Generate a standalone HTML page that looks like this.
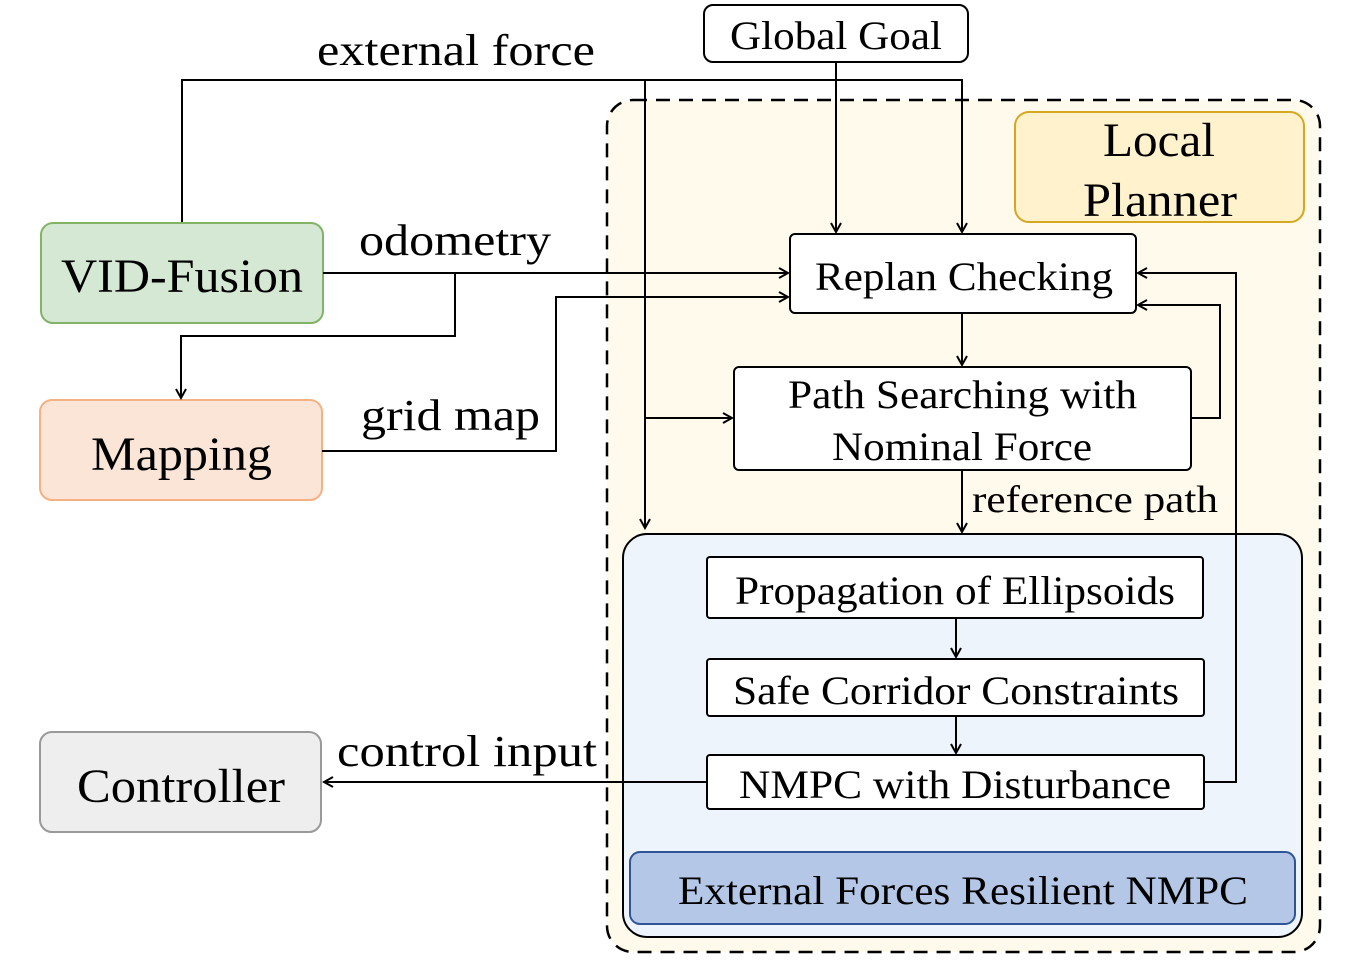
<!DOCTYPE html>
<html><head><meta charset="utf-8"><style>
body{margin:0;background:#fff}
svg{display:block}
text{font-family:"Liberation Serif",serif;fill:#000}
</style></head><body>
<svg width="1351" height="966" viewBox="0 0 1351 966" xmlns="http://www.w3.org/2000/svg">
<defs>
<marker id="a" markerWidth="12" markerHeight="12" refX="10" refY="6" orient="auto" markerUnits="userSpaceOnUse">
<path d="M1,1 L10,6 L1,11" fill="none" stroke="#000" stroke-width="2"/>
</marker>
</defs>
<rect x="607" y="100" width="713" height="852" rx="26" fill="#fffaeb" stroke="#000" stroke-width="2.5" stroke-dasharray="14,9"/>
<rect x="1015" y="112" width="289" height="110" rx="14" fill="#fff2cc" stroke="#d6a820" stroke-width="2"/>
<text x="1103" y="156" font-size="48" textLength="112" lengthAdjust="spacingAndGlyphs">Local</text>
<text x="1083" y="216" font-size="48" textLength="154" lengthAdjust="spacingAndGlyphs">Planner</text>
<rect x="623" y="534" width="679" height="403" rx="24" fill="#edf4fc" stroke="#000" stroke-width="2"/>
<rect x="704" y="5" width="264" height="57" rx="9" fill="#fff" stroke="#000" stroke-width="2"/>
<text x="730" y="49" font-size="40" textLength="212" lengthAdjust="spacingAndGlyphs">Global Goal</text>
<text x="317" y="65" font-size="44" textLength="278" lengthAdjust="spacingAndGlyphs">external force</text>
<rect x="41" y="223" width="282" height="100" rx="12" fill="#d5e8d4" stroke="#82b366" stroke-width="2"/>
<text x="61" y="292" font-size="48" textLength="242" lengthAdjust="spacingAndGlyphs">VID-Fusion</text>
<rect x="40" y="400" width="282" height="100" rx="12" fill="#fae5d7" stroke="#f4b183" stroke-width="2"/>
<text x="91" y="470" font-size="48" textLength="181" lengthAdjust="spacingAndGlyphs">Mapping</text>
<rect x="40" y="732" width="281" height="100" rx="12" fill="#eeeeee" stroke="#999" stroke-width="2"/>
<text x="77" y="802" font-size="48" textLength="208" lengthAdjust="spacingAndGlyphs">Controller</text>
<rect x="790" y="234" width="346" height="79" rx="5" fill="#fff" stroke="#000" stroke-width="2"/>
<text x="815" y="290" font-size="40" textLength="298" lengthAdjust="spacingAndGlyphs">Replan Checking</text>
<rect x="734" y="367" width="457" height="103" rx="5" fill="#fff" stroke="#000" stroke-width="2"/>
<text x="788" y="408" font-size="40" textLength="349" lengthAdjust="spacingAndGlyphs">Path Searching with</text>
<text x="832" y="460" font-size="40" textLength="260" lengthAdjust="spacingAndGlyphs">Nominal Force</text>
<rect x="707" y="557" width="496" height="61" rx="3" fill="#fff" stroke="#000" stroke-width="2"/>
<text x="735" y="604" font-size="40" textLength="440" lengthAdjust="spacingAndGlyphs">Propagation of Ellipsoids</text>
<rect x="707" y="659" width="497" height="57" rx="3" fill="#fff" stroke="#000" stroke-width="2"/>
<text x="733" y="704" font-size="40" textLength="446" lengthAdjust="spacingAndGlyphs">Safe Corridor Constraints</text>
<rect x="707" y="755" width="497" height="54" rx="3" fill="#fff" stroke="#000" stroke-width="2"/>
<text x="739" y="798" font-size="40" textLength="432" lengthAdjust="spacingAndGlyphs">NMPC with Disturbance</text>
<rect x="630" y="852" width="665" height="72" rx="10" fill="#b4c7e7" stroke="#2f5597" stroke-width="2"/>
<text x="678" y="904" font-size="40" textLength="570" lengthAdjust="spacingAndGlyphs">External Forces Resilient NMPC</text>
<g fill="none" stroke="#000" stroke-width="2">
<polyline points="182,222 182,80 962,80 962,232" marker-end="url(#a)"/>
<polyline points="645,80 645,528" marker-end="url(#a)"/>
<polyline points="645,418 732,418" marker-end="url(#a)"/>
<polyline points="836,62 836,232" marker-end="url(#a)"/>
<polyline points="323,273 788,273" marker-end="url(#a)"/>
<polyline points="455,273 455,336 181,336 181,398" marker-end="url(#a)"/>
<polyline points="322,451 556,451 556,297 788,297" marker-end="url(#a)"/>
<polyline points="962,313 962,365" marker-end="url(#a)"/>
<polyline points="1191,418 1220,418 1220,305 1138,305" marker-end="url(#a)"/>
<polyline points="1204,782 1236,782 1236,273 1138,273" marker-end="url(#a)"/>
<polyline points="962,470 962,532" marker-end="url(#a)"/>
<polyline points="956,618 956,657" marker-end="url(#a)"/>
<polyline points="956,716 956,753" marker-end="url(#a)"/>
<polyline points="707,782 324,782" marker-end="url(#a)"/>
</g>
<text x="359" y="255" font-size="44" textLength="192" lengthAdjust="spacingAndGlyphs">odometry</text>
<text x="361" y="430" font-size="44" textLength="179" lengthAdjust="spacingAndGlyphs">grid map</text>
<text x="972" y="512" font-size="38" textLength="246" lengthAdjust="spacingAndGlyphs">reference path</text>
<text x="337" y="766" font-size="44" textLength="260" lengthAdjust="spacingAndGlyphs">control input</text>
</svg>
</body></html>
